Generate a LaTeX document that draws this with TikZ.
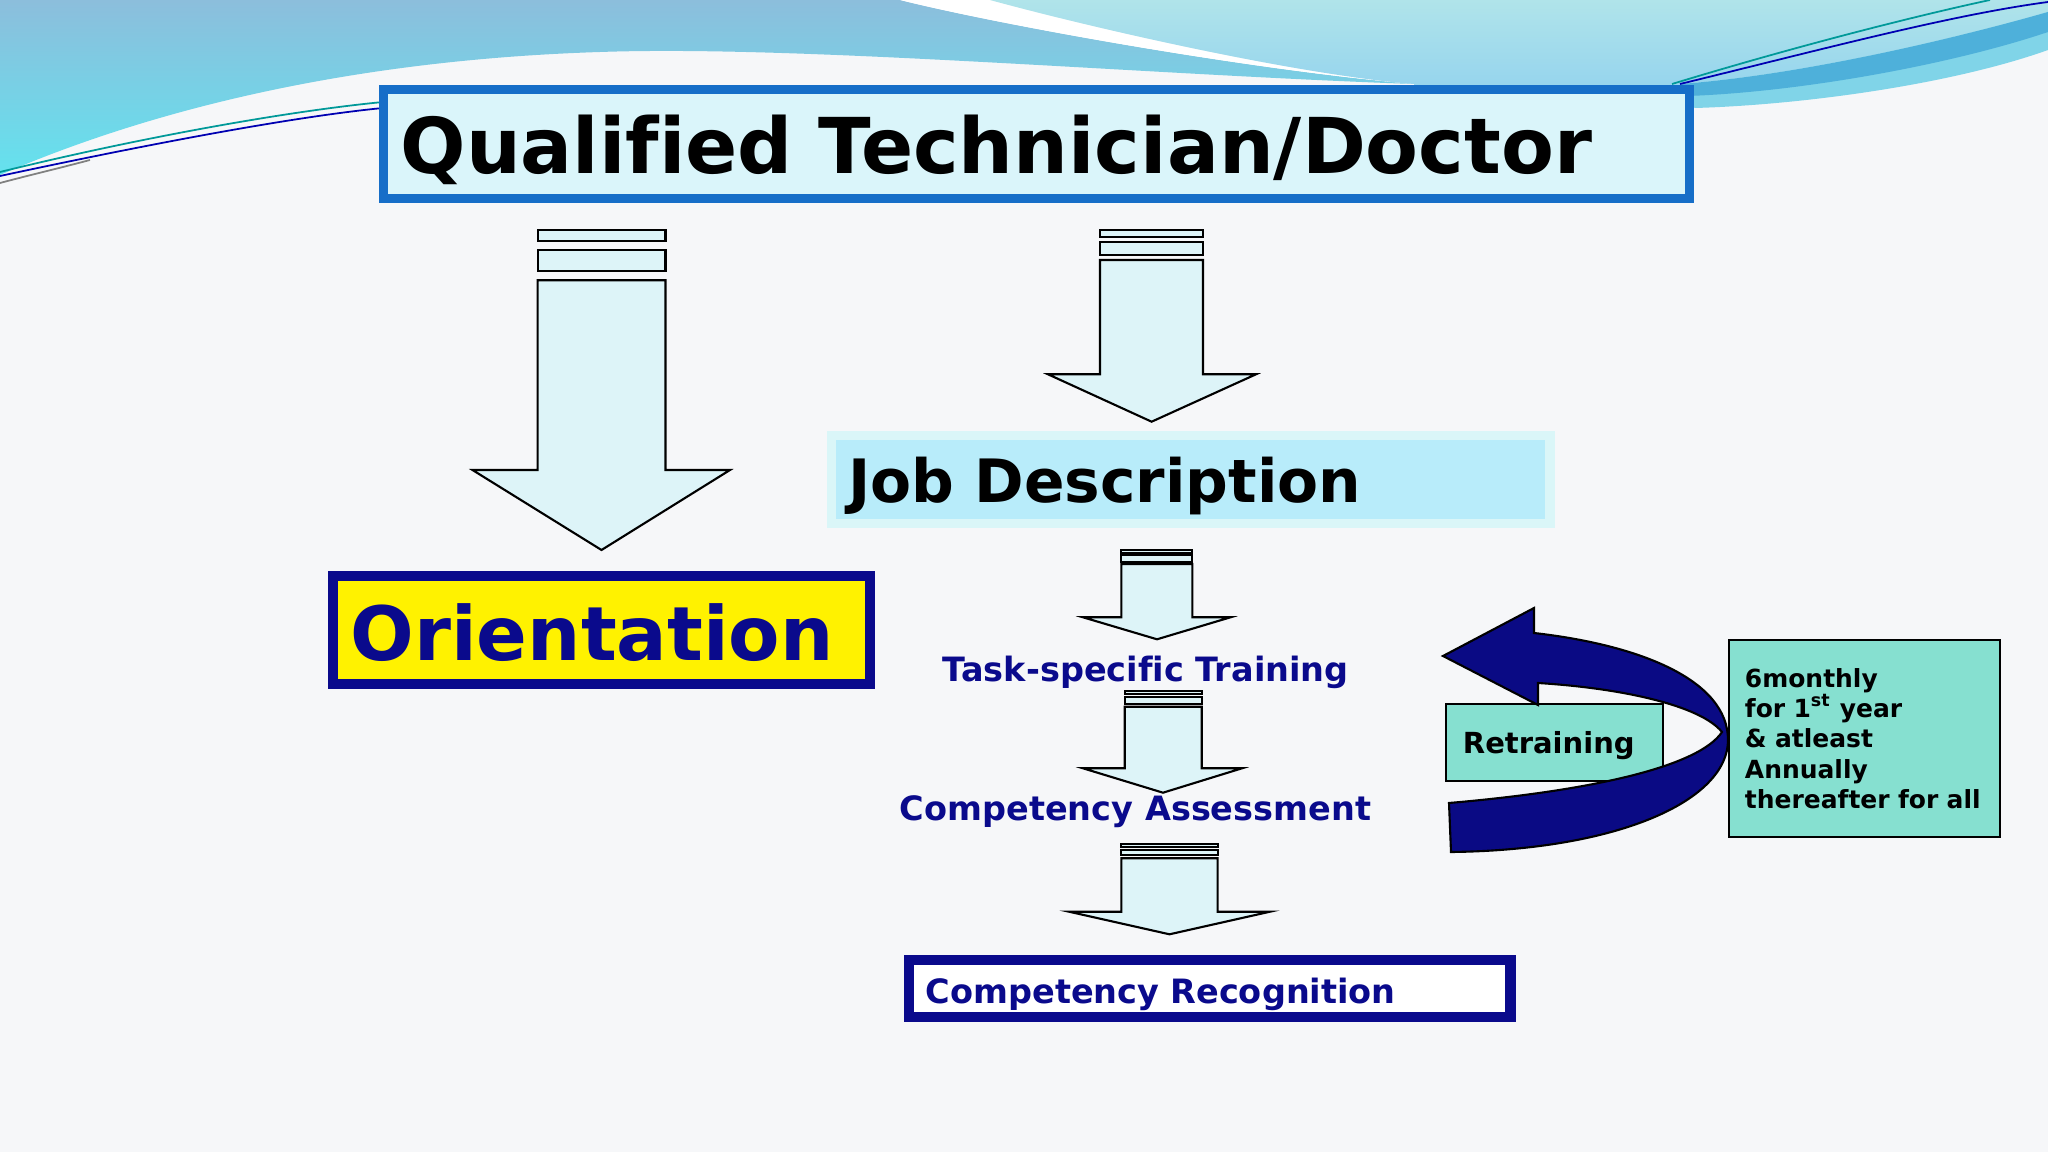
\documentclass[tikz,border=0pt]{standalone}
\usepackage{fontspec}
\setmainfont[Ligatures=NoCommon]{DejaVu Sans}
\usepackage{tikz}

\definecolor{pagebg}{RGB}{246,247,249}
\definecolor{waveblue}{RGB}{140,190,220}
\definecolor{wavecyan}{RGB}{100,226,238}
\definecolor{skytop}{RGB}{176,228,234}
\definecolor{skybottom}{RGB}{146,210,238}
\definecolor{stripedark}{RGB}{78,176,218}
\definecolor{stripelight}{RGB}{128,212,232}
\definecolor{titleblue}{RGB}{22,110,200}
\definecolor{titlefill}{RGB}{218,245,250}
\definecolor{jobouter}{RGB}{218,246,248}
\definecolor{jobfill}{RGB}{184,236,250}
\definecolor{arrowfill}{RGB}{221,244,248}
\definecolor{navy}{RGB}{10,10,140}
\definecolor{loopnavy}{RGB}{10,10,132}
\definecolor{tealbox}{RGB}{134,224,208}

\begin{document}
\begin{tikzpicture}[x=0.01cm,y=-0.01cm,
	blockarrow/.style={draw=black,fill=arrowfill,line width=0.6pt},
	flowtext/.style={text=navy,font=\fontsize{9.53}{11}\selectfont\bfseries},
	boxtext/.style={align=left,text depth=0pt}]
	
	\useasboundingbox (0,0) rectangle (2048,1152);
	\fill[pagebg] (0,0) rectangle (2048,1152);
	
	% waves at the top
	\shade[top color=waveblue,bottom color=wavecyan] (0,0) -- (900,0) .. controls (1000,25) and (1250,70) .. (1414,84) .. controls (1150,75) and (800,45) .. (600,52) .. controls (350,60) and (150,110) .. (0,175) -- cycle;
	\fill[white] (900,0) .. controls (1000,25) and (1250,70) .. (1414,84) .. controls (1300,75) and (1100,30) .. (990,0) -- cycle;
	\shade[top color=skytop,bottom color=skybottom] (990,0) -- (2048,0) -- (2048,12) .. controls (1950,40) and (1800,75) .. (1681,84) -- (1681,100) -- (1414,100) -- (1414,84) .. controls (1300,75) and (1100,30) .. (990,0) -- cycle;
	\fill[stripelight] (1681,84) .. controls (1800,75) and (1950,40) .. (2048,12) -- (2048,50) .. controls (1950,85) and (1800,105) .. (1695,108) -- (1681,100) -- cycle;
	\fill[stripedark] (1681,84) .. controls (1800,75) and (1950,40) .. (2048,12) -- (2048,32) .. controls (1950,65) and (1800,92) .. (1688,96) -- cycle;
	\draw[teal!80!cyan,line width=0.5pt] (1672,84) .. controls (1800,45) and (1920,15) .. (1990,0);
	\draw[blue!70!black,line width=0.5pt] (1680,84) .. controls (1820,50) and (1950,15) .. (2048,2);
	\draw[teal!80!cyan,line width=0.5pt] (0,172) .. controls (130,140) and (280,112) .. (383,102);
	\draw[blue!70!black,line width=0.5pt] (0,176) .. controls (140,146) and (290,117) .. (383,108);
	\draw[gray,line width=0.5pt] (0,183) .. controls (30,175) and (60,168) .. (90,160);
	
	% boxes
	\node[draw=titleblue,line width=2.56pt,fill=titlefill,boxtext,minimum width=13.06cm,minimum height=1.09cm,inner xsep=0.175cm,text width=12.71cm,text height=0.58cm,font=\fontsize{21.9}{26}\selectfont\bfseries] (qualified) at (1036.5,144) {Qualified Technician/Doctor};
	\node[draw=jobouter,line width=2.7pt,fill=jobfill,boxtext,minimum width=7.177cm,minimum height=0.88cm,inner xsep=0.168cm,text width=6.841cm,text height=0.458cm,font=\fontsize{17}{20}\selectfont\bfseries] (jobdesc) at (1190.8,479.4) {Job Description};
	\node[draw=navy,line width=2.85pt,fill=yellow,text=navy,boxtext,minimum width=5.37cm,minimum height=1.08cm,inner xsep=0.179cm,text width=5.012cm,text height=0.60cm,font=\fontsize{21.3}{25}\selectfont\bfseries] (orientation) at (601.4,630.2) {Orientation};
	\node[flowtext,anchor=base] (training) at (1145.7,681.7) {Task-specific Training};
	\node[flowtext,anchor=base] (assessment) at (1135.5,820) {Competency Assessment};
	\node[draw=navy,line width=2.85pt,fill=white,flowtext,boxtext,minimum width=6.01cm,minimum height=0.567cm,inner xsep=0.167cm,text width=5.676cm,text height=0.30cm] (recognition) at (1209.8,988.3) {Competency Recognition};
	\node[draw=black,line width=0.5pt,fill=tealbox,boxtext,minimum width=2.17cm,minimum height=0.767cm,inner xsep=0.17cm,text width=1.83cm,text height=0.212cm,font=\fontsize{8.25}{10}\selectfont\bfseries] (retraining) at (1554.5,742.4) {Retraining};
	\node[draw=black,line width=0.5pt,fill=tealbox,align=left,minimum width=2.71cm,minimum height=1.97cm,inner xsep=0.16cm,text width=2.39cm,font=\fontsize{7.1}{8.6}\selectfont\bfseries] (schedule) at (1864.5,738.5) {6monthly\\for 1\textsuperscript{st} year\\\& atleast\\Annually\\thereafter for all};
	
	% block arrows
	\draw[blockarrow] (537.6,230) rectangle (665.5,240.7);
	\draw[blockarrow] (537.6,250) rectangle (665.5,270.7);
	\draw[blockarrow] (537.6,280.3) -- (665.5,280.3) -- (665.5,470) -- (730,470) -- (601.5,550) -- (472.5,470) -- (537.6,470) -- cycle;
	
	\draw[blockarrow] (1100,230) rectangle (1203,236.7);
	\draw[blockarrow] (1100,241.7) rectangle (1203,254.7);
	\draw[blockarrow] (1100,260) -- (1203,260) -- (1203,374.3) -- (1256,374.3) -- (1151.6,421.7) -- (1048,374.3) -- (1100,374.3) -- cycle;
	
	\draw[blockarrow] (1121.4,550) rectangle (1192.4,553.3);
	\draw[blockarrow] (1121.4,555) rectangle (1192.4,561.7);
	\draw[blockarrow] (1121.4,564) -- (1192.4,564) -- (1192.4,617.3) -- (1230.5,617.3) -- (1157,639.3) -- (1083,617.3) -- (1121.4,617.3) -- cycle;
	
	\draw[blockarrow] (1124.7,691) rectangle (1201.7,694);
	\draw[blockarrow] (1124.7,696.7) rectangle (1201.7,704);
	\draw[blockarrow] (1124.7,706.7) -- (1201.7,706.7) -- (1201.7,768.3) -- (1242,768.3) -- (1163,792.7) -- (1083,768.3) -- (1124.7,768.3) -- cycle;
	
	\draw[blockarrow] (1121.4,844.3) rectangle (1217.6,847);
	\draw[blockarrow] (1121.4,850) rectangle (1217.6,855.3);
	\draw[blockarrow] (1121.4,858.3) -- (1217.6,858.3) -- (1217.6,911.7) -- (1270,911.7) -- (1169.5,934.3) -- (1069,911.7) -- (1121.4,911.7) -- cycle;
	
	% loop back to training
	\draw[fill=loopnavy,line width=0.6pt] (1443,656) -- (1534,608) -- (1534,633) .. controls (1640,645) and (1728,680) .. (1728,740) .. controls (1728,800) and (1620,850) .. (1451,852) -- (1449,803) .. controls (1600,790) and (1700,765) .. (1722,732) .. controls (1700,705) and (1620,688) .. (1538,683) -- (1538,705) -- cycle;

\end{tikzpicture}
\end{document}
